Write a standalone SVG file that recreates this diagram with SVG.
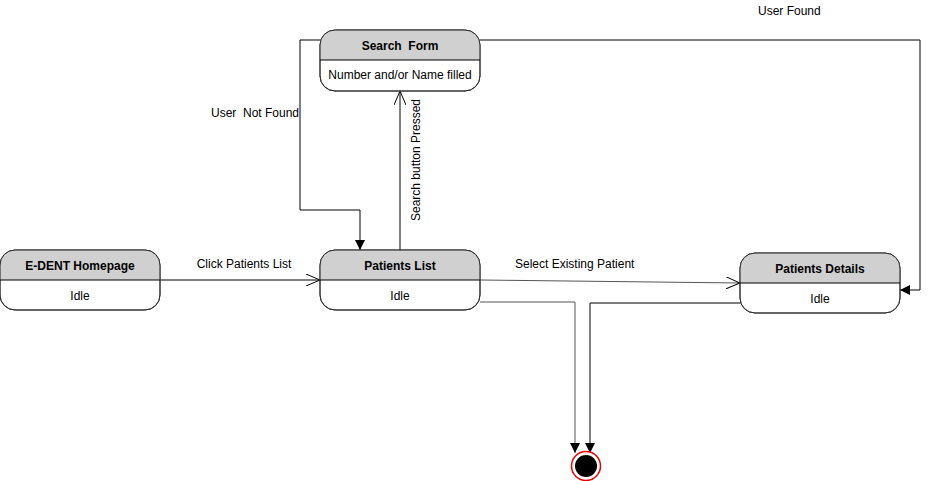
<svg xmlns="http://www.w3.org/2000/svg" width="929" height="481" viewBox="0 0 929 481">
<style>
.box{fill:#fff;stroke:#333;stroke-width:1}
.hdr{fill:#d0d0d0}
.div{stroke:#000;stroke-width:1}
.t{font-family:"Liberation Sans",Arial,sans-serif;font-size:12px;fill:#000}
.b{font-weight:bold;text-anchor:middle}
.c{text-anchor:middle}
.ln{fill:none;stroke:#000;stroke-width:1}
.gr{stroke:#555}
</style>
<defs>
<marker id="open" viewBox="0 0 14 12" refX="14" refY="6" markerWidth="14" markerHeight="12" markerUnits="userSpaceOnUse" orient="auto">
<path d="M0,0 L14,6 L0,12" fill="none" stroke="#000" stroke-width="1"/>
</marker>
<marker id="fill" viewBox="0 0 10 10" refX="10" refY="5" markerWidth="10" markerHeight="10" markerUnits="userSpaceOnUse" orient="auto">
<path d="M0,0 L10,5 L0,10 Z" fill="#000"/>
</marker>
<clipPath id="c1"><rect x="320" y="30" width="160" height="30"/></clipPath>
<clipPath id="c2"><rect x="0" y="250" width="160" height="30"/></clipPath>
<clipPath id="c3"><rect x="320" y="250" width="160" height="30"/></clipPath>
<clipPath id="c4"><rect x="740" y="253" width="160" height="30"/></clipPath>
</defs>
<g id="connectors">
<line class="ln" x1="160" y1="280" x2="320" y2="280" marker-end="url(#open)"/>
<text class="t c" x="244" y="268">Click Patients List</text>
<line class="ln gr" x1="480" y1="280" x2="740" y2="283" marker-end="url(#open)"/>
<text class="t" x="515" y="268">Select Existing Patient</text>
<line class="ln" x1="400" y1="250" x2="400" y2="91" marker-end="url(#open)"/>
<text class="t c" transform="translate(420,160) rotate(-90)">Search button Pressed</text>
<polyline class="ln" points="320,40 300,40 300,210 360,210 360,250" marker-end="url(#fill)"/>
<text class="t" x="211" y="117" xml:space="preserve">User  Not Found</text>
<polyline class="ln" points="480,40 920,40 920,290 900,290" marker-end="url(#fill)"/>
<text class="t" x="758" y="15">User Found</text>
<polyline class="ln gr" points="480,302 575,302 575,453" marker-end="url(#fill)"/>
<polyline class="ln" points="740,303 590,303 590,453" marker-end="url(#fill)"/>
</g>
<g id="search-form">
<rect class="box" x="320" y="30" width="160" height="61" rx="15"/>
<rect class="hdr" x="320.5" y="30.5" width="159" height="60" rx="14.5" clip-path="url(#c1)"/>
<rect x="320" y="30" width="160" height="61" rx="15" fill="none" stroke="#333"/>
<line class="div" x1="320" y1="60" x2="480" y2="60"/>
<text class="t b" x="400" y="50" xml:space="preserve">Search  Form</text>
<text class="t c" x="400" y="79">Number and/or Name filled</text>
</g>
<g id="homepage">
<rect class="box" x="0" y="250" width="160" height="60" rx="15"/>
<rect class="hdr" x="0.5" y="250.5" width="159" height="59" rx="14.5" clip-path="url(#c2)"/>
<rect x="0" y="250" width="160" height="60" rx="15" fill="none" stroke="#333"/>
<line class="div" x1="0" y1="280" x2="160" y2="280"/>
<text class="t b" x="80" y="270">E-DENT Homepage</text>
<text class="t c" x="80" y="300">Idle</text>
</g>
<g id="patients-list">
<rect class="box" x="320" y="250" width="160" height="60" rx="15"/>
<rect class="hdr" x="320.5" y="250.5" width="159" height="59" rx="14.5" clip-path="url(#c3)"/>
<rect x="320" y="250" width="160" height="60" rx="15" fill="none" stroke="#333"/>
<line class="div" x1="320" y1="280" x2="480" y2="280"/>
<text class="t b" x="400" y="270">Patients List</text>
<text class="t c" x="400" y="300">Idle</text>
</g>
<g id="patients-details">
<rect class="box" x="740" y="253" width="160" height="60" rx="15"/>
<rect class="hdr" x="740.5" y="253.5" width="159" height="59" rx="14.5" clip-path="url(#c4)"/>
<rect x="740" y="253" width="160" height="60" rx="15" fill="none" stroke="#333"/>
<line class="div" x1="740" y1="283" x2="900" y2="283"/>
<text class="t b" x="820" y="273">Patients Details</text>
<text class="t c" x="820" y="303">Idle</text>
</g>
<g id="final-state">
<circle cx="586" cy="466" r="14.5" fill="#fff" stroke="#e00" stroke-width="1.5"/>
<circle cx="586" cy="466" r="11" fill="#000"/>
</g>
</svg>
